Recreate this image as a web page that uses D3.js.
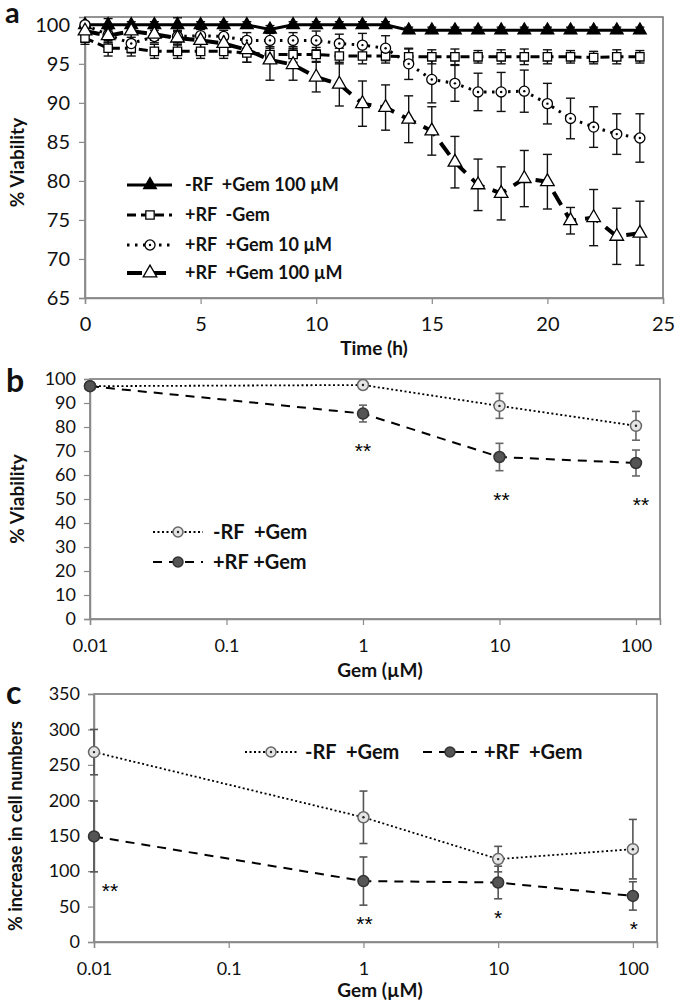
<!DOCTYPE html>
<html><head><meta charset="utf-8">
<script src="https://cdn.jsdelivr.net/npm/d3@7"></script>
<style>
body{margin:0;background:#fff;}
text{font-family:Lato,"Open Sans",sans-serif;fill:#111;white-space:pre;}
</style>
</head><body>
<svg id="chart" width="675" height="1000"></svg>
<script>
// ---------- DATA ----------
// Panel a: viability over time
const timeH = [0,1,2,3,4,5,6,7,8,9,10,11,12,13,14,15,16,17,18,19,20,21,22,23,24];
const aSeriesNames = ["-RF  +Gem 100 µM", "+RF  -Gem", "+RF  +Gem 10 µM", "+RF  +Gem 100 µM"];
const aSolidMean  = [100,100,100,100,100,100,100,100,99.4,100,100,100,100,100,99.3,99.3,99.3,99.3,99.3,99.3,99.3,99.3,99.3,99.3,99.3];
const aSolidErr   = [0.3,0.8,0.4,0.4,0.9,0.4,0.4,0.4,0.5,0.4,0.4,0.4,0.4,0.4,0.4,0.4,0.4,0.4,0.4,0.4,0.4,0.4,0.4,0.4,0.4];
const aSquareMean = [98.3,97.0,97.0,96.6,96.6,96.6,96.6,96.4,96.2,96.2,96.2,96.0,96.0,96.0,95.9,95.9,95.9,95.9,95.9,95.9,95.9,95.9,95.8,95.9,95.9];
const aSquareErr  = [0.8,1.0,1.0,0.9,0.9,0.9,0.9,1.2,1.0,1.0,0.9,1.0,1.0,0.9,1.0,0.9,1.0,0.8,0.9,1.0,0.9,0.8,0.8,0.9,0.8];
const aCircleMean = [100,98.7,97.6,98.5,98.5,98.6,98.5,98.0,98.0,98.0,98.0,97.6,97.4,97.0,95.0,93.0,92.5,91.4,91.4,91.5,89.9,88.0,86.9,86.0,85.5];
const aCircleErr  = [0.3,1.0,1.2,0.8,0.8,0.8,0.8,1.0,1.0,1.0,1.2,1.2,1.5,1.6,2.0,3.0,2.3,2.4,2.5,2.7,2.6,2.6,2.6,2.6,3.1];
const aTriMean    = [99.2,98.6,99.2,98.8,98.3,98.0,97.6,96.8,95.5,94.9,93.3,92.4,89.9,89.4,87.9,86.4,82.4,79.5,78.4,80.3,79.9,74.9,75.3,72.9,73.3];
const aTriErr     = [0.5,0.8,0.8,0.8,0.9,1.0,1.2,1.6,2.6,2.0,1.9,2.8,2.9,2.9,3.0,3.1,3.3,3.3,3.4,3.6,3.5,1.7,3.6,3.6,4.1];
const aYTicks = [65,70,75,80,85,90,95,100];
const aXTicks = [0,5,10,15,20,25];

// Panel b: viability vs Gem dose
const gemDose = [0.01, 1, 10, 100];
const doseTicks = [0.01, 0.1, 1, 10, 100];
const doseTickLabels = ["0.01", "0.1", "1", "10", "100"];
const bSeriesNames = ["-RF  +Gem", "+RF +Gem"];
const bMinusMean = [97, 97.5, 88.8, 80.5];
const bMinusErr  = [0.5, 0.8, 5.2, 6.0];
const bPlusMean  = [97, 85.6, 67.5, 65.0];
const bPlusErr   = [0.8, 3.5, 5.7, 5.4];
const bYTicks = [0,10,20,30,40,50,60,70,80,90,100];
const bStarDose = [1, 10, 100];
const bStarText = ["**", "**", "**"];

// Panel c: % increase in cell numbers vs Gem dose
const cSeriesNames = ["-RF  +Gem", "+RF  +Gem"];
const cMinusMean = [268, 176, 117, 131];
const cMinusErr  = [32, 37, 18, 42];
const cPlusMean  = [149, 86, 84, 65];
const cPlusErr   = [50, 34, 23, 20];
const cYTicks = [0,50,100,150,200,250,300,350];
const cStarDose = [0.01, 1, 10, 100];
const cStarText = ["**", "**", "*", "*"];

// ---------- DRAW ----------
const svg = d3.select("#chart");
const axisCol = "#8a8a8a", boxCol = "#707070";

function frame(L, R, T, B) {
  svg.append("rect").attr("x", L).attr("y", T).attr("width", R-L).attr("height", B-T)
    .attr("fill","none").attr("stroke", boxCol).attr("stroke-width", 1.5);
  const gx = svg.append("g").attr("transform", `translate(0,${B})`);
  const gy = svg.append("g").attr("transform", `translate(${L},0)`);
  return {gx, gy};
}
function styleAxis(g, fs) {
  g.select(".domain").attr("stroke", axisCol).attr("stroke-width", 1.5);
  g.selectAll(".tick line").attr("stroke", axisCol).attr("stroke-width", 1.2);
  g.selectAll(".tick text").attr("font-size", fs).style("font-family","Lato,'Open Sans',sans-serif");
}

// ===== Panel a =====
{
  const L=85, R=663, T=17, B=298;
  const x = d3.scaleLinear().domain([0,25]).range([L,R]);
  const y = d3.scaleLinear().domain([65,101]).range([B,T]);
  const {gx, gy} = frame(L, R, T, B);
  gx.call(d3.axisBottom(x).tickValues(aXTicks).tickSize(6).tickPadding(13));
  gy.call(d3.axisLeft(y).tickValues(aYTicks).tickSize(6).tickPadding(9));
  styleAxis(gx, 20); styleAxis(gy, 20);
  svg.append("text").attr("x", 5).attr("y", 23).attr("font-size", 29).attr("font-weight", "bold").text("a");
  svg.append("text").attr("x", 374).attr("y", 355).attr("text-anchor","middle").attr("font-size",19).attr("font-weight","bold").text("Time (h)");
  svg.append("text").attr("transform", `translate(24,${(T+B)/2+5}) rotate(-90)`).attr("text-anchor","middle").attr("font-size",19).attr("font-weight","bold").text("% Viability");

  const series = [
    {m:aSolidMean, e:aSolidErr, dash:null, w:3, sym:d3.symbolTriangle, size:70, fill:"#000"},
    {m:aSquareMean, e:aSquareErr, dash:"9,5", w:3, sym:d3.symbolSquare, size:70, fill:"#fff"},
    {m:aCircleMean, e:aCircleErr, dash:"2.5,5.5", w:3, sym:d3.symbolCircle, size:80, fill:"#fff", dot:true},
    {m:aTriMean, e:aTriErr, dash:"15,9", w:4, sym:d3.symbolTriangle, size:80, fill:"#fff"}
  ];
  series.forEach(s => {
    const g = svg.append("g");
    timeH.forEach((t,i) => {
      const cx = x(t), y1 = y(s.m[i]+s.e[i]), y2 = y(s.m[i]-s.e[i]);
      g.append("line").attr("x1",cx).attr("x2",cx).attr("y1",y1).attr("y2",y2).attr("stroke","#111").attr("stroke-width",1.4);
      [y1,y2].forEach(yy => g.append("line").attr("x1",cx-4.5).attr("x2",cx+4.5).attr("y1",yy).attr("y2",yy).attr("stroke","#111").attr("stroke-width",1.4));
    });
  });
  series.forEach(s => {
    const line = d3.line().x((d,i)=>x(timeH[i])).y(d=>y(d));
    svg.append("path").datum(s.m).attr("d", line).attr("fill","none").attr("stroke","#000")
      .attr("stroke-width", s.w).attr("stroke-dasharray", s.dash);
    const sym = d3.symbol().type(s.sym).size(s.size);
    s.m.forEach((v,i) => {
      svg.append("path").attr("d", sym()).attr("transform", `translate(${x(timeH[i])},${y(v)})`)
        .attr("fill", s.fill).attr("stroke","#000").attr("stroke-width",1.3);
      if (s.dot) svg.append("circle").attr("cx", x(timeH[i])).attr("cy", y(v)).attr("r",1.2).attr("fill","#000");
    });
  });
  const lgY = [185, 215, 245, 273];
  series.forEach((s,k) => {
    svg.append("line").attr("x1",127).attr("x2",172).attr("y1",lgY[k]).attr("y2",lgY[k]).attr("stroke","#000")
      .attr("stroke-width", s.w).attr("stroke-dasharray", s.dash);
    svg.append("path").attr("d", d3.symbol().type(s.sym).size(s.size)()).attr("transform",`translate(150,${lgY[k]})`)
      .attr("fill", s.fill).attr("stroke","#000").attr("stroke-width",1.3);
    if (s.dot) svg.append("circle").attr("cx",150).attr("cy",lgY[k]).attr("r",1.2).attr("fill","#000");
    svg.append("text").attr("x",185).attr("y",lgY[k]+6).attr("font-size",18).attr("font-weight","bold").text(aSeriesNames[k]);
  });
}

// ===== dose panels =====
function dosePanel(o) {
  const {L,R,T,B} = o;
  const x = d3.scaleLog().domain([0.01, o.xmax]).range([L,R]);
  const y = d3.scaleLinear().domain(o.ydom).range([B,T]);
  const {gx, gy} = frame(L, R, T, B);
  gx.call(d3.axisBottom(x).tickValues(doseTicks).tickFormat((d,i)=>doseTickLabels[i]).tickSize(6).tickPadding(14));
  gy.call(d3.axisLeft(y).tickValues(o.yticks).tickSize(6).tickPadding(8));
  styleAxis(gx, 18); styleAxis(gy, 18);
  svg.append("text").attr("x", 6).attr("y", o.labelY).attr("font-size", 32).attr("font-weight","bold").text(o.label);
  svg.append("text").attr("x", 380).attr("y", o.xtitleY).attr("text-anchor","middle").attr("font-size",19).attr("font-weight","bold").text("Gem (µM)");
  svg.append("text").attr("transform", `translate(${o.ytitleX},${o.ytitleY}) rotate(-90)`).attr("text-anchor","middle").attr("font-size",o.ytitleFs).attr("font-weight","bold").text(o.ytitle);

  const ser = [
    {m:o.minusMean, e:o.minusErr, dash:"2,2.5", w:1.8, fill:"#e4e4e4", stroke:"#666", dot:true},
    {m:o.plusMean, e:o.plusErr, dash:"9,7", w:2, fill:"#555", stroke:"#333"}
  ];
  ser.forEach(s => {
    gemDose.forEach((d,i) => {
      const cx = x(d), y1 = y(s.m[i]+s.e[i]), y2 = y(s.m[i]-s.e[i]);
      svg.append("line").attr("x1",cx).attr("x2",cx).attr("y1",y1).attr("y2",y2).attr("stroke",o.errCol).attr("stroke-width",1.6);
      [y1,y2].forEach(yy => svg.append("line").attr("x1",cx-4).attr("x2",cx+4).attr("y1",yy).attr("y2",yy).attr("stroke",o.errCol).attr("stroke-width",1.6));
    });
  });
  ser.forEach(s => {
    const line = d3.line().x((d,i)=>x(gemDose[i])).y(d=>y(d));
    svg.append("path").datum(s.m).attr("d", line).attr("fill","none").attr("stroke","#000").attr("stroke-width", s.w).attr("stroke-dasharray", s.dash);
    s.m.forEach((v,i) => {
      svg.append("circle").attr("cx", x(gemDose[i])).attr("cy", y(v)).attr("r", 5.5).attr("fill", s.fill).attr("stroke", s.stroke).attr("stroke-width",1.5);
      if (s.dot) svg.append("circle").attr("cx", x(gemDose[i])).attr("cy", y(v)).attr("r",1.2).attr("fill","#222");
    });
  });
  o.starDose.forEach((d,k) => {
    const i = gemDose.indexOf(d);
    svg.append("text").attr("x", x(d) + (o.starDx[k]||0)).attr("y", y(o.plusMean[i]-o.plusErr[i]) + o.starDy)
      .attr("text-anchor","middle").attr("font-size",21).style("font-family","'Liberation Sans',Arial,sans-serif").style("fill","#000").text(o.starText[k]);
  });
  o.legend.forEach((lg,k) => {
    const s = ser[k];
    svg.append("line").attr("x1",lg.x1).attr("x2",lg.x2).attr("y1",lg.y).attr("y2",lg.y).attr("stroke","#000").attr("stroke-width",s.w).attr("stroke-dasharray",s.dash);
    svg.append("circle").attr("cx",(lg.x1+lg.x2)/2).attr("cy",lg.y).attr("r",5).attr("fill",s.fill).attr("stroke",s.stroke).attr("stroke-width",1.5);
    if (s.dot) svg.append("circle").attr("cx",(lg.x1+lg.x2)/2).attr("cy",lg.y).attr("r",1.2).attr("fill","#222");
    svg.append("text").attr("x",lg.tx).attr("y",lg.y+7).attr("font-size",20).attr("font-weight","bold").text(o.names[k]);
  });
}

dosePanel({L:90, R:660, T:379, B:619, xmax:150, ydom:[0,100], yticks:bYTicks, label:"b", labelY:392,
  xtitleY:677, ytitle:"% Viability", ytitleX:24, ytitleY:499, ytitleFs:19, minusMean:bMinusMean, minusErr:bMinusErr, plusMean:bPlusMean, plusErr:bPlusErr,
  errCol:"#666", starDose:bStarDose, starText:bStarText, starDx:[0,2,5], starDy:36,
  names:bSeriesNames, legend:[{x1:153,x2:203,y:532,tx:213},{x1:153,x2:203,y:562,tx:213}]});

dosePanel({L:94, R:657, T:694, B:942, xmax:151, ydom:[0,350], yticks:cYTicks, label:"c", labelY:704,
  xtitleY:997, ytitle:"% increase in cell numbers", ytitleX:22, ytitleY:826, ytitleFs:18, minusMean:cMinusMean, minusErr:cMinusErr, plusMean:cPlusMean, plusErr:cPlusErr,
  errCol:"#555", starDose:cStarDose, starText:cStarText, starDx:[16,1,0,1], starDy:26,
  names:cSeriesNames, legend:[{x1:245,x2:297,y:752,tx:305},{x1:423,x2:477,y:752,tx:484}]});
</script>
</body></html>
